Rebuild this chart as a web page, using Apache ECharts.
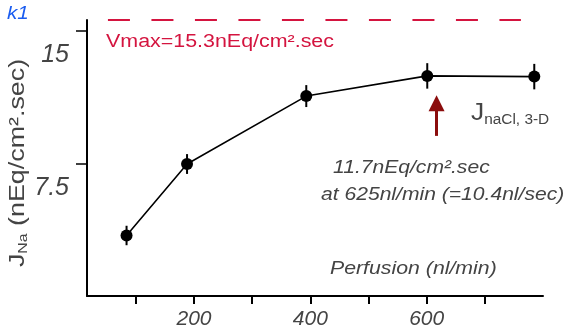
<!DOCTYPE html>
<html>
<head>
<meta charset="utf-8">
<script src="https://cdn.jsdelivr.net/npm/echarts@6/dist/echarts.min.js"></script>
<style>html,body{margin:0;padding:0;background:#fff}#c{width:566px;height:330px}</style>
</head>
<body>
<div id="c"></div>
<script>
// Data
var perfusion = [84, 188, 393, 601, 785];
var jna = [3.42, 7.46, 11.3, 12.44, 12.4];
var jnaErr = [0.55, 0.56, 0.62, 0.72, 0.72];
var xTickValues = [100, 200, 300, 400, 500, 600, 700];
var xLabelValues = [200, 400, 600];
var yTickValues = [7.5, 15];
var vmaxLineY = 15.6;
var vmaxSpan = [52, 762];
var arrowX = 617;
var arrowY = [9.05, 10.9];

var FONT = 'Liberation Sans, Arial, sans-serif';
var GRAY = '#444';

var chart = echarts.init(document.getElementById('c'));
var lineData = perfusion.map(function (x, i) { return [x, jna[i]]; });
var errData = perfusion.map(function (x, i) { return [x, jna[i] - jnaErr[i], jna[i] + jnaErr[i]]; });

chart.setOption({
  animation: false,
  backgroundColor: '#fff',
  grid: { left: 87, right: 23, top: 20, bottom: 32 },
  xAxis: {
    type: 'value', min: 16, max: 800,
    axisLine: { show: true, lineStyle: { color: '#000', width: 2 } },
    axisTick: { show: true, length: 8, inside: false, customValues: xTickValues, lineStyle: { color: '#000', width: 2 } },
    axisLabel: { customValues: xLabelValues, margin: 13, fontSize: 21, fontStyle: 'italic', color: GRAY, fontFamily: FONT },
    splitLine: { show: false }
  },
  yAxis: {
    type: 'value', min: 0, max: 15.6,
    axisLine: { show: true, lineStyle: { color: '#000', width: 2 } },
    axisTick: { show: true, length: 11, customValues: yTickValues, lineStyle: { color: '#000', width: 1.5 } },
    axisLabel: { customValues: yTickValues, margin: 18, fontSize: 25, fontStyle: 'italic', color: GRAY, fontFamily: FONT,
      verticalAlign: 'top', padding: [12, 0, 0, 0] },
    splitLine: { show: false }
  },
  series: [
    {
      type: 'custom',
      data: errData,
      z: 3,
      renderItem: function (params, api) {
        var lo = api.coord([api.value(0), api.value(1)]);
        var hi = api.coord([api.value(0), api.value(2)]);
        return { type: 'line', shape: { x1: lo[0], y1: lo[1], x2: hi[0], y2: hi[1] }, style: { stroke: '#000', lineWidth: 2 } };
      }
    },
    {
      type: 'line',
      data: lineData,
      symbol: 'circle', symbolSize: 12,
      itemStyle: { color: '#000' },
      lineStyle: { color: '#000', width: 1.6 },
      z: 4,
      markLine: {
        silent: true,
        animation: false,
        label: { show: false },
        data: [
          [{ coord: [vmaxSpan[0], vmaxLineY], symbol: 'none', lineStyle: { color: '#d4143f', width: 2, type: [22, 21.5] } },
           { coord: [vmaxSpan[1], vmaxLineY], symbol: 'none' }],
          [{ coord: [arrowX, arrowY[0]], symbol: 'none', lineStyle: { color: '#8b0d0d', width: 3, type: 'solid' } },
           { coord: [arrowX, arrowY[1]], symbol: 'triangle', symbolSize: [16, 16] }]
        ]
      }
    }
  ],
  graphic: [
    { type: 'text', x: 7, y: 14, scaleX: 1.15, style: { text: 'k1', font: 'italic 18px ' + FONT, fill: '#1a5cf0', verticalAlign: 'middle' } },
    { type: 'text', x: 106, y: 42, scaleX: 1.19, style: { text: 'Vmax=15.3nEq/cm².sec', font: '18px ' + FONT, fill: '#d4143f', verticalAlign: 'middle' } },
    { type: 'text', x: 18, y: 163, rotation: Math.PI / 2, scaleX: 1.22,
      style: { text: 'J{s|Na} (nEq/cm².sec)', align: 'center', verticalAlign: 'middle', fill: GRAY,
        font: '22px ' + FONT,
        rich: { s: { fontSize: 13, fontFamily: FONT, fill: GRAY, padding: [10, 0, 0, 0] } } } },
    { type: 'text', x: 471, y: 113, scaleX: 1.1,
      style: { text: 'J{s|naCl, 3-D}', verticalAlign: 'middle', fill: GRAY, font: '24px ' + FONT,
        rich: { s: { fontSize: 14, fontFamily: FONT, fill: GRAY, padding: [15, 0, 0, 0] } } } },
    { type: 'text', x: 333, y: 168, scaleX: 1.11, style: { text: '11.7nEq/cm².sec', font: 'italic 19px ' + FONT, fill: GRAY, verticalAlign: 'middle' } },
    { type: 'text', x: 321, y: 195, scaleX: 1.11, style: { text: 'at 625nl/min (=10.4nl/sec)', font: 'italic 19px ' + FONT, fill: GRAY, verticalAlign: 'middle' } },
    { type: 'text', x: 330, y: 269, scaleX: 1.12, style: { text: 'Perfusion (nl/min)', font: 'italic 19px ' + FONT, fill: GRAY, verticalAlign: 'middle' } }
  ]
});
</script>
</body>
</html>
